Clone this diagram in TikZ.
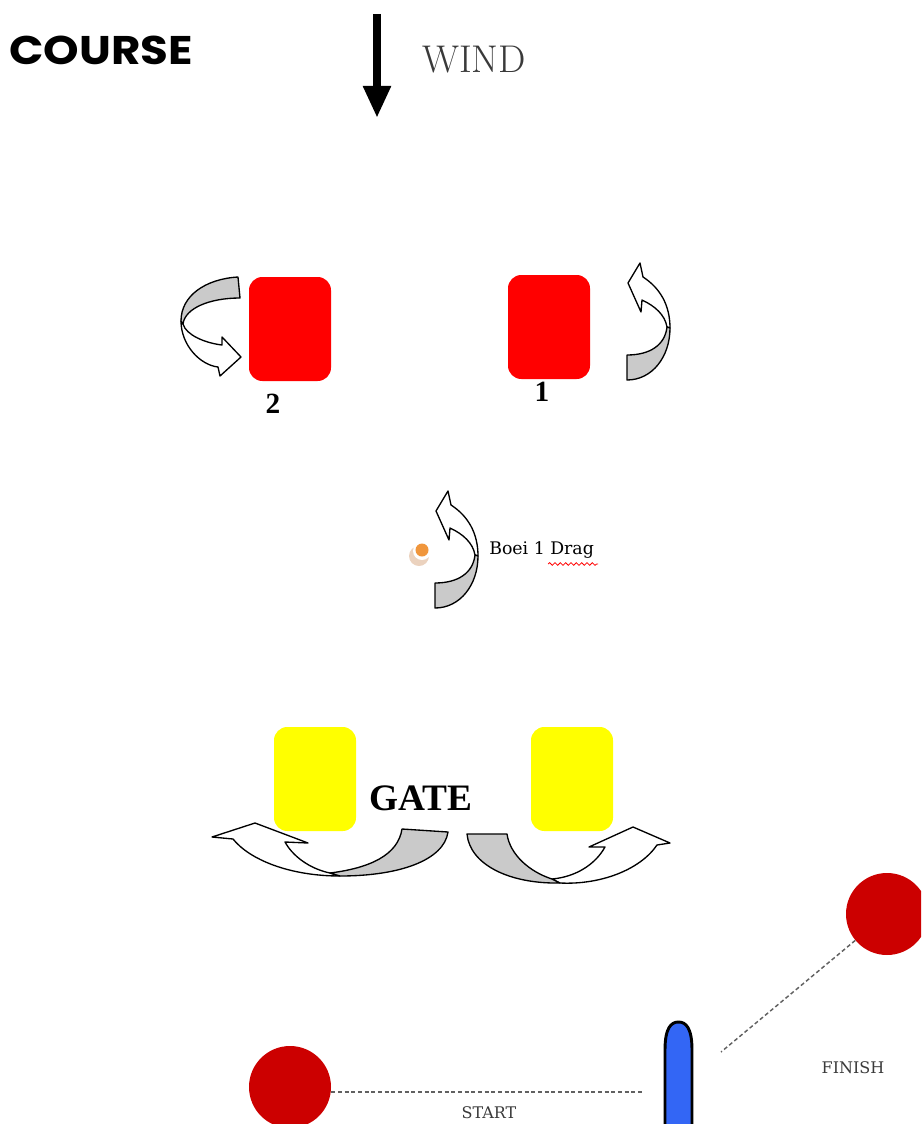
\documentclass[tikz,border=0pt]{standalone}
\usepackage{fontspec}
\newfontfamily\popfont{Poppins}
\newfontfamily\slabfont{DejaVu Serif}
\newfontfamily\timesfont{Liberation Serif}
\usetikzlibrary{arrows.meta,decorations.pathmorphing}
\definecolor{markred}{HTML}{FF0000}
\definecolor{buoyred}{HTML}{CC0000}
\definecolor{gateyellow}{HTML}{FFFF00}
\definecolor{poleblue}{HTML}{3366F5}
\definecolor{backgrey}{HTML}{CACACA}
\definecolor{textgrey}{HTML}{3A3A3A}
\definecolor{buoyorange}{HTML}{F0963C}
\definecolor{buoyshade}{HTML}{EBD2BE}
\tikzset{
  markbox/.style={rounded corners=10pt, minimum width=61.5pt, minimum height=78pt, inner sep=0pt},
  ball/.style={circle, fill=buoyred, minimum size=61.5pt, inner sep=0pt},
  backside/.style={fill=backgrey, draw=black, line width=1pt, line join=round},
  frontside/.style={fill=white, draw=black, line width=1pt, line join=round},
  lineline/.style={draw=textgrey!80, dash pattern=on 3pt off 2pt, line width=1.1pt},
  pics/uparrow/.style={code={
    \path[frontside] (43,65) .. controls (43,42) and (33,25) .. (16,14) -- (13,0) -- (1,20)
      -- (14,49) -- (15,37) .. controls (28,43) and (38,52) .. (40,64) -- cycle;
    \path[backside] (0,92) -- (0,117) .. controls (25,117) and (43,94) .. (43,65)
      -- (40,64) .. controls (38,82) and (23,92) .. (0,92) -- cycle;
  }}
}
\begin{document}
\begin{tikzpicture}[x=0.75pt,y=-0.75pt]
\useasboundingbox (0,0) rectangle (921,1124);
\clip (0,0) rectangle (921,1124);

% title
\node (course) at (101,50) {\scalebox{1.13}[1]{\popfont\bfseries\fontsize{30}{32}\selectfont COURSE}};

% wind
\coordinate (wtop) at (377,14);
\coordinate (wbot) at (377,118);
\draw[line width=6pt, -{Triangle[length=24pt,width=19.5pt]}] (wtop) -- (wbot);
\node[text=textgrey] (wind) at (474,60) {\fontsize{29}{31}\selectfont WIND};

% red marks
\node[markbox, fill=markred] (m2) at (290,329) {};
\node[markbox, fill=markred] (m1) at (549,327) {};
\node (l2) at (273,404) {\timesfont\bfseries\fontsize{22}{24}\selectfont 2};
\node (l1) at (542,392) {\timesfont\bfseries\fontsize{22}{24}\selectfont 1};

% arrow at mark 2
\path[frontside] (181,321) .. controls (181,345) and (200,365) .. (218,367) -- (220,376) -- (241,357)
  -- (222,337) -- (222,345) .. controls (205,343) and (186,335) .. (183,324) -- cycle;
\path[backside] (238,277) .. controls (205,279) and (181,296) .. (181,321) -- (183,324)
  .. controls (185,308) and (210,298) .. (240,298) -- cycle;

% arrow at mark 1
\pic at (627,263) {uparrow};

% boei 1 drag
\fill[buoyshade] (419,556) circle (10);
\fill[white] (422,551) circle (9);
\fill[buoyorange] (422,550) circle (6.5);
\pic at (435,491) {uparrow};
\node[anchor=west, inner sep=0pt] (boei) at (489,550) {\slabfont\fontsize{13}{15}\selectfont Boei 1 Drag};
\draw[markred, line width=0.6pt, decorate, decoration={snake, amplitude=1pt, segment length=4pt}] (548,564) -- (598,564);

% gate
\node[markbox, fill=gateyellow] (gl) at (315,779) {};
\node[markbox, fill=gateyellow] (gr) at (572,779) {};
\node (gate) at (421,798) {\timesfont\bfseries\fontsize{28}{30}\selectfont GATE};

\path[frontside] (340,876) .. controls (290,876) and (250,860) .. (233,839) -- (212,837) -- (255,823)
  -- (308,843) -- (285,842) .. controls (295,860) and (315,870) .. (330,873) -- cycle;
\path[backside] (402,829) -- (448,832) .. controls (444,860) and (400,876) .. (340,876)
  -- (330,873) .. controls (370,868) and (398,855) .. (402,829) -- cycle;

\path[frontside] (560,883) .. controls (600,885) and (640,870) .. (657,845) -- (670,843) -- (633,827)
  -- (589,847) -- (605,847) .. controls (595,865) and (575,877) .. (552,879) -- cycle;
\path[backside] (467,834) -- (507,834) .. controls (510,855) and (530,872) .. (552,879)
  -- (560,883) .. controls (510,884) and (470,865) .. (467,834) -- cycle;

% start / finish
\node[ball] (startball) at (290,1087) {};
\node[ball] (finishball) at (887,914) {};
\coordinate (startend) at (643,1092);
\coordinate (finishend) at (721,1052);
\draw[lineline] (startball.east |- startend) -- (startend);
\draw[lineline] (finishball) -- (finishend);
\node[text=textgrey, inner sep=1pt] (start) at (489,1113) {\slabfont\fontsize{12}{14}\selectfont START};
\node[text=textgrey] (finish) at (853,1068) {\slabfont\fontsize{12}{14}\selectfont FINISH};

% pole
\path[fill=poleblue, draw=black, line width=2.2pt] (665,1135) -- (665,1050)
  .. controls (665,1028) and (671,1022) .. (678.5,1022) .. controls (686,1022) and (692,1028) .. (692,1050)
  -- (692,1135);
\end{tikzpicture}
\end{document}
